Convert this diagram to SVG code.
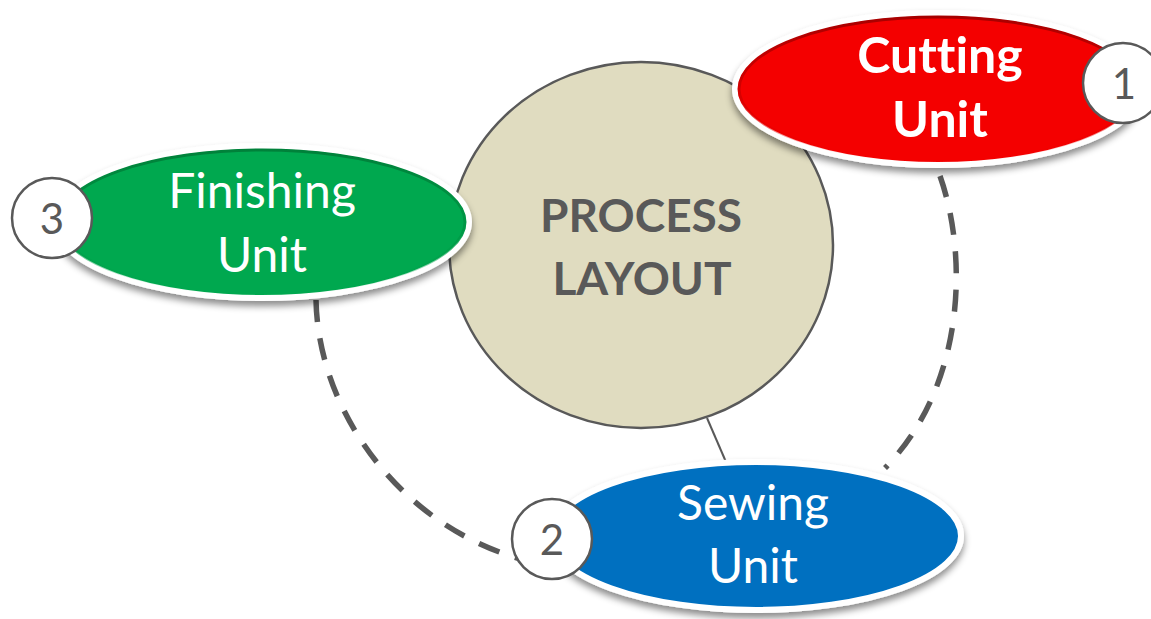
<svg xmlns="http://www.w3.org/2000/svg" width="1151" height="619" viewBox="0 0 1151 619">
  <defs>
    <filter id="shadow" x="-10%" y="-20%" width="120%" height="150%">
      <feDropShadow dx="0" dy="5" stdDeviation="3.5" flood-color="#000" flood-opacity="0.45"/>
    </filter>
    <linearGradient id="rimRed" x1="0" y1="0" x2="0" y2="1">
      <stop offset="0" stop-color="#a80000"/>
      <stop offset="0.55" stop-color="#d80000"/>
      <stop offset="1" stop-color="#f40000" stop-opacity="0"/>
    </linearGradient>
    <linearGradient id="rimGreen" x1="0" y1="0" x2="0" y2="1">
      <stop offset="0" stop-color="#00813a"/>
      <stop offset="0.55" stop-color="#009846"/>
      <stop offset="1" stop-color="#00a84f" stop-opacity="0"/>
    </linearGradient>
    <style>
      text { font-family: Lato, "Liberation Sans", sans-serif; font-variant-ligatures: none; text-anchor: middle; }
      .ring { stroke: #ffffff; stroke-width: 6; }
      .dash { fill: none; stroke: #595959; stroke-width: 5.5; stroke-dasharray: 22 16.5; }
      .thin { fill: none; stroke: #595959; stroke-width: 2; }
      .badge { fill: #ffffff; stroke: #595959; stroke-width: 2.5; }
      .num { font-size: 42px; fill: #595959; }
      .lbl { font-size: 48px; fill: #ffffff; }
      .bold { font-size: 50px; font-weight: 700; }
      .core { font-size: 46px; font-weight: 700; fill: #595959; }
    </style>
  </defs>

  <rect width="1151" height="619" fill="#ffffff"/>

  <!-- dashed flow arcs and the link to the sewing unit -->
  <g id="connectors">
    <path class="dash" d="M940,176 C968,255 966,385 885,468"/>
    <path class="dash" d="M316,300 C318,410 400,530 532,562"/>
    <path class="thin" d="M707,418 L726,462"/>
  </g>

  <!-- central hub -->
  <g id="process-layout">
    <ellipse cx="641" cy="245" rx="192" ry="183" fill="#e0dcc0" stroke="#595959" stroke-width="2.5"/>
    <text class="core" x="641" y="232">PROCESS</text>
    <text class="core" x="642" y="295">LAYOUT</text>
  </g>

  <!-- cutting -->
  <g id="cutting-unit">
    <ellipse class="ring" cx="938" cy="89" rx="203" ry="76" fill="#f40000" filter="url(#shadow)"/>
    <ellipse cx="938" cy="89" rx="199" ry="72" fill="none" stroke="url(#rimRed)" stroke-width="3"/>
    <text class="lbl bold" x="940" y="73">Cutting</text>
    <text class="lbl bold" x="940" y="137">Unit</text>
  </g>

  <!-- finishing -->
  <g id="finishing-unit">
    <ellipse class="ring" cx="262" cy="222" rx="207" ry="76" fill="#00a84f" filter="url(#shadow)"/>
    <ellipse cx="262" cy="222" rx="203" ry="72" fill="none" stroke="url(#rimGreen)" stroke-width="3"/>
    <text class="lbl" x="262" y="208">Finishing</text>
    <text class="lbl" x="262" y="272">Unit</text>
  </g>

  <!-- sewing -->
  <g id="sewing-unit">
    <ellipse class="ring" cx="756" cy="536" rx="205" ry="74" fill="#0070c0" filter="url(#shadow)"/>
    <text class="lbl" x="753" y="520">Sewing</text>
    <text class="lbl" x="753" y="583">Unit</text>
  </g>

  <!-- step badges -->
  <g id="step-1">
    <circle class="badge" cx="1123" cy="83" r="40"/>
    <text class="num" x="1124" y="99">1</text>
  </g>
  <g id="step-2">
    <circle class="badge" cx="552" cy="539" r="40"/>
    <text class="num" x="552" y="555">2</text>
  </g>
  <g id="step-3">
    <circle class="badge" cx="52" cy="218" r="40"/>
    <text class="num" x="52" y="234">3</text>
  </g>
</svg>
